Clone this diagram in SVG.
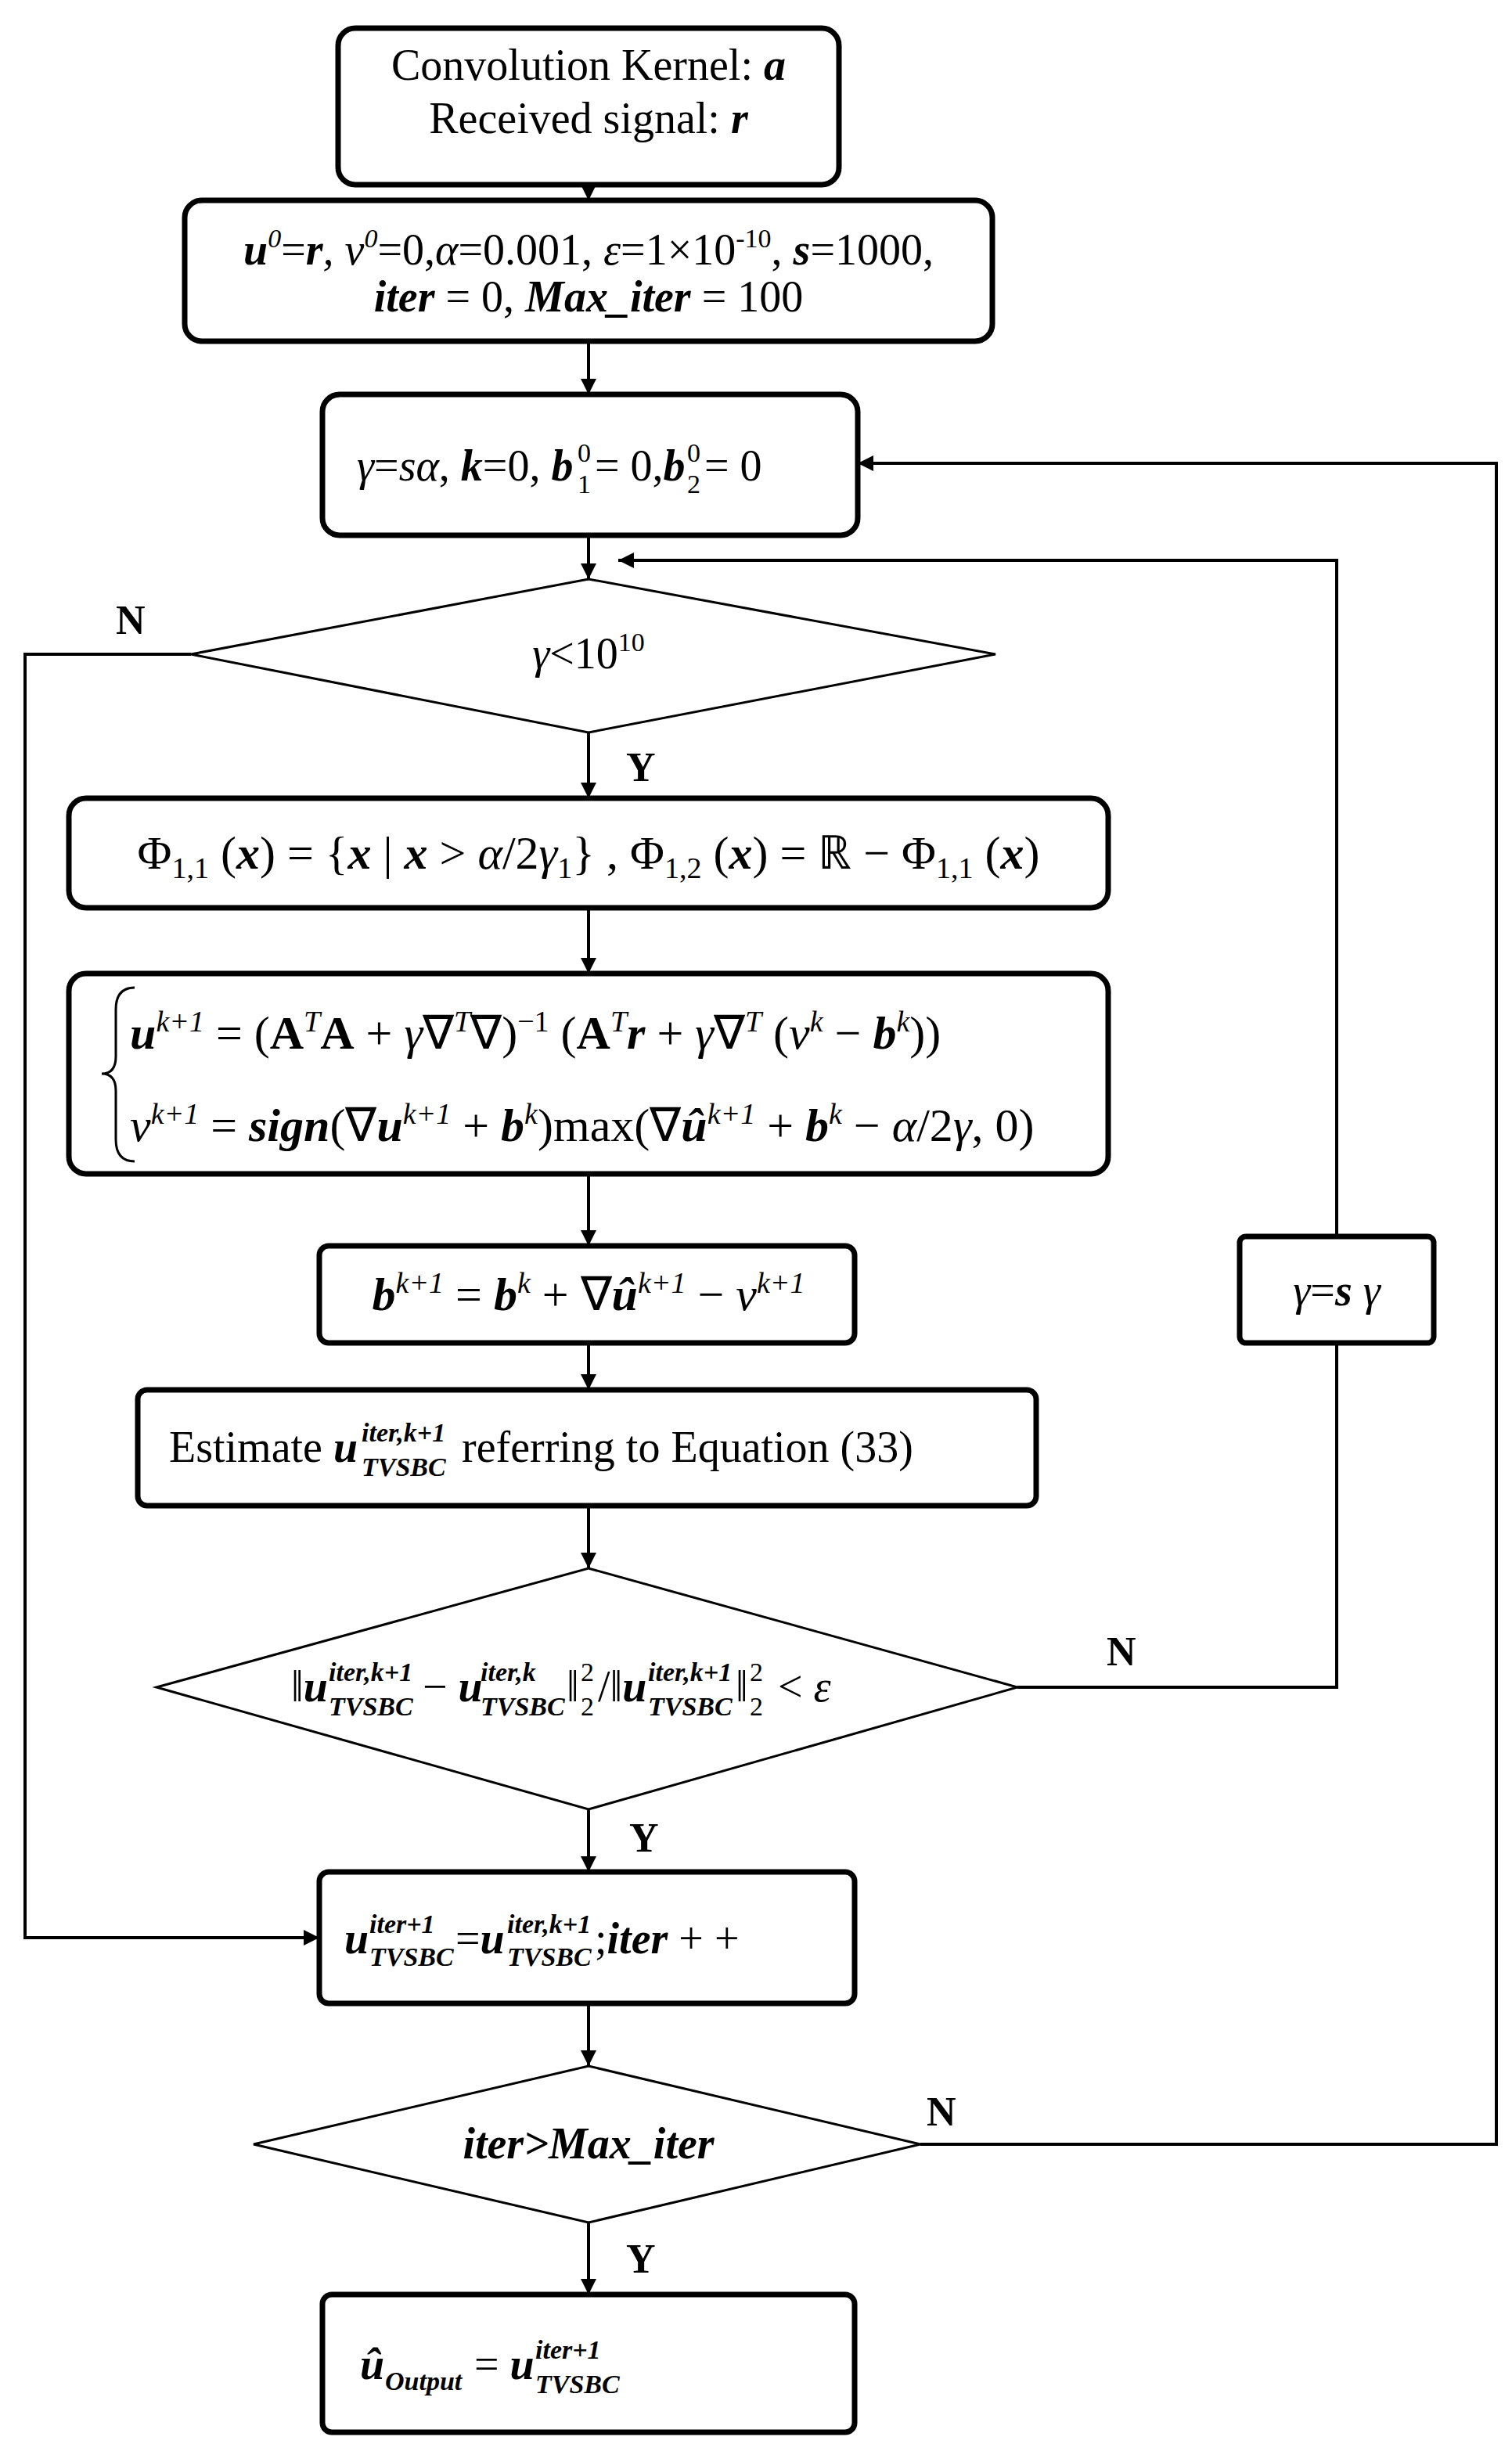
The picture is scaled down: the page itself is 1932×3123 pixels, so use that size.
<svg xmlns="http://www.w3.org/2000/svg" width="1932" height="3123" viewBox="0 0 1932 3123">
<style>
text{font-family:"Liberation Serif","Times New Roman",serif;font-size:56px;fill:#000}
.big{font-size:60px}
.bi{font-weight:bold;font-style:italic}
.i{font-style:italic}
.b{font-weight:bold}
.s{font-size:34px}
.big .s{font-size:38px}
.box{fill:#fff;stroke:#000;stroke-width:7}
.dia{fill:#fff;stroke:#000;stroke-width:3}
.ln{fill:none;stroke:#000;stroke-width:4}
.lbl{font-size:52px;font-weight:bold}
</style>
<defs>
<marker id="a" viewBox="0 0 10 10" refX="10" refY="5" markerWidth="5" markerHeight="5" orient="auto"><path d="M0,0L10,5L0,10z"/></marker>
</defs>
<g id="connectors">
<path class="ln" d="M752,236V256" marker-end="url(#a)"/>
<path class="ln" d="M752,436V504" marker-end="url(#a)"/>
<path class="ln" d="M752,684V740" marker-end="url(#a)"/>
<path class="ln" d="M752,936V1020" marker-end="url(#a)"/>
<path class="ln" d="M752,1160V1244" marker-end="url(#a)"/>
<path class="ln" d="M752,1500V1592" marker-end="url(#a)"/>
<path class="ln" d="M752,1716V1776" marker-end="url(#a)"/>
<path class="ln" d="M752,1924V2004" marker-end="url(#a)"/>
<path class="ln" d="M752,2312V2392" marker-end="url(#a)"/>
<path class="ln" d="M752,2560V2640" marker-end="url(#a)"/>
<path class="ln" d="M752,2840V2932" marker-end="url(#a)"/>
<path class="ln" d="M244,836H32V2476H408" marker-end="url(#a)"/>
<path class="ln" d="M1300,2156H1708V1716"/>
<path class="ln" d="M1708,1580V716H790" marker-end="url(#a)"/>
<path class="ln" d="M1176,2740H1912V592H1096" marker-end="url(#a)"/>
<text class="lbl" x="148" y="810">N</text>
<text class="lbl" x="800" y="998">Y</text>
<text class="lbl" x="1414" y="2128">N</text>
<text class="lbl" x="804" y="2366">Y</text>
<text class="lbl" x="1184" y="2716">N</text>
<text class="lbl" x="800" y="2904">Y</text>
</g>
<g id="n1"><rect class="box" x="432" y="36" width="640" height="200" rx="22"/>
<text x="752" y="102" text-anchor="middle">Convolution Kernel: <tspan class="bi">a</tspan></text>
<text x="752" y="170" text-anchor="middle">Received signal: <tspan class="bi">r</tspan></text></g>
<g id="n2"><rect class="box" x="236" y="256" width="1032" height="180" rx="22"/>
<text x="752" y="338" text-anchor="middle"><tspan class="bi">u</tspan><tspan class="i s" dy="-22">0</tspan><tspan dy="22">=</tspan><tspan class="bi">r</tspan><tspan class="i">, v</tspan><tspan class="i s" dy="-22">0</tspan><tspan dy="22">=0,</tspan><tspan class="i">α</tspan>=0.001, <tspan class="i">ε</tspan>=1×10<tspan class="s" dy="-22">-10</tspan><tspan dy="22">, </tspan><tspan class="bi">s</tspan>=1000,</text>
<text x="752" y="398" text-anchor="middle"><tspan class="bi">iter</tspan> = 0, <tspan class="bi">Max_iter</tspan> = 100</text></g>
<g id="n3"><rect class="box" x="412" y="504" width="684" height="180" rx="22"/>
<text x="456" y="614"><tspan class="i">γ</tspan>=<tspan class="i">sα</tspan>, <tspan class="bi">k</tspan>=0,  <tspan class="bi">b</tspan></text>
<text class="s" x="738" y="590">0</text><text class="s" x="738" y="630">1</text>
<text x="760" y="614"> = 0,<tspan class="bi">b</tspan></text>
<text class="s" x="878" y="590">0</text><text class="s" x="878" y="630">2</text>
<text x="900" y="614"> = 0</text></g>
<g id="n4"><path class="dia" d="M244,836L752,740L1272,836L752,936Z"/>
<text x="752" y="854" text-anchor="middle"><tspan class="i">γ</tspan>&lt;10<tspan class="s" dy="-22">10</tspan></text></g>
<g id="n5"><rect class="box" x="88" y="1020" width="1328" height="140" rx="22"/>
<text class="big" x="752" y="1110" text-anchor="middle">Φ<tspan class="s" dy="12">1,1</tspan><tspan dy="-12"> (</tspan><tspan class="bi">x</tspan>) = {<tspan class="bi">x</tspan> | <tspan class="bi">x</tspan> &gt; <tspan class="i">α</tspan>/2<tspan class="i">γ</tspan><tspan class="s" dy="12">1</tspan><tspan dy="-12">} , Φ</tspan><tspan class="s" dy="12">1,2</tspan><tspan dy="-12"> (</tspan><tspan class="bi">x</tspan>) = ℝ − Φ<tspan class="s" dy="12">1,1</tspan><tspan dy="-12"> (</tspan><tspan class="bi">x</tspan>)</text></g>
<g id="n6"><rect class="box" x="88" y="1244" width="1328" height="256" rx="22"/>
<path d="M172,1262Q148,1262 148,1290V1350Q148,1372 130,1372Q148,1372 148,1394V1456Q148,1484 172,1484" fill="none" stroke="#000" stroke-width="3"/>
<text class="big" x="166" y="1340"><tspan class="bi">u</tspan><tspan class="i s" dy="-22">k+1</tspan><tspan dy="22"> = (</tspan><tspan class="b">A</tspan><tspan class="i s" dy="-22">T</tspan><tspan class="b" dy="22">A</tspan> + <tspan class="i">γ</tspan>∇<tspan class="i s" dy="-22">T</tspan><tspan dy="22">∇)</tspan><tspan class="s" dy="-22">−1</tspan><tspan dy="22"> (</tspan><tspan class="b">A</tspan><tspan class="i s" dy="-22">T</tspan><tspan class="bi" dy="22">r</tspan> + <tspan class="i">γ</tspan>∇<tspan class="i s" dy="-22">T</tspan><tspan dy="22"> (</tspan><tspan class="i">v</tspan><tspan class="i s" dy="-22">k</tspan><tspan dy="22"> − </tspan><tspan class="bi">b</tspan><tspan class="i s" dy="-22">k</tspan><tspan dy="22">))</tspan></text>
<text class="big" x="166" y="1458"><tspan class="i">v</tspan><tspan class="i s" dy="-22">k+1</tspan><tspan dy="22"> = </tspan><tspan class="bi">sign</tspan>(∇<tspan class="bi">u</tspan><tspan class="i s" dy="-22">k+1</tspan><tspan dy="22"> + </tspan><tspan class="bi">b</tspan><tspan class="i s" dy="-22">k</tspan><tspan dy="22">)max(∇</tspan><tspan class="bi">û</tspan><tspan class="i s" dy="-22">k+1</tspan><tspan dy="22"> + </tspan><tspan class="bi">b</tspan><tspan class="i s" dy="-22">k</tspan><tspan dy="22"> − </tspan><tspan class="i">α</tspan>/2<tspan class="i">γ</tspan>, 0)</text></g>
<g id="n7"><rect class="box" x="408" y="1592" width="684" height="124" rx="12"/>
<text class="big" x="752" y="1674" text-anchor="middle"><tspan class="bi">b</tspan><tspan class="i s" dy="-22">k+1</tspan><tspan dy="22"> = </tspan><tspan class="bi">b</tspan><tspan class="i s" dy="-22">k</tspan><tspan dy="22"> + ∇</tspan><tspan class="bi">û</tspan><tspan class="i s" dy="-22">k+1</tspan><tspan dy="22"> − </tspan><tspan class="i">v</tspan><tspan class="i s" dy="-22">k+1</tspan></text></g>
<g id="n8"><rect class="box" x="176" y="1776" width="1148" height="148" rx="12"/>
<text x="216" y="1868">Estimate <tspan class="bi">u</tspan></text>
<text class="bi s" x="462" y="1842">iter,k+1</text><text class="bi s" x="462" y="1886">TVSBC</text>
<text x="590" y="1868">referring to Equation (33)</text></g>
<g id="n9"><path class="dia" d="M200,2156L752,2004L1300,2156L752,2312Z"/>
<text x="372" y="2174">‖<tspan class="bi">u</tspan></text>
<text class="bi s" x="420" y="2148">iter,k+1</text><text class="bi s" x="420" y="2192">TVSBC</text>
<text x="540" y="2174">− <tspan class="bi">u</tspan></text>
<text class="bi s" x="614" y="2148">iter,k</text><text class="bi s" x="614" y="2192">TVSBC</text>
<text x="724" y="2174">‖</text>
<text class="s" x="742" y="2148">2</text><text class="s" x="742" y="2192">2</text>
<text x="764" y="2174">/‖<tspan class="bi">u</tspan></text>
<text class="bi s" x="828" y="2148">iter,k+1</text><text class="bi s" x="828" y="2192">TVSBC</text>
<text x="940" y="2174">‖</text>
<text class="s" x="958" y="2148">2</text><text class="s" x="958" y="2192">2</text>
<text x="994" y="2174">&lt; <tspan class="i">ε</tspan></text></g>
<g id="n10"><rect class="box" x="1584" y="1580" width="248" height="136" rx="8"/>
<text x="1708" y="1668" text-anchor="middle"><tspan class="i">γ</tspan>=<tspan class="bi">s</tspan> <tspan class="i">γ</tspan></text></g>
<g id="n11"><rect class="box" x="408" y="2392" width="684" height="168" rx="12"/>
<text x="440" y="2496" class="bi">u</text>
<text class="bi s" x="472" y="2470">iter+1</text><text class="bi s" x="472" y="2512">TVSBC</text>
<text x="582" y="2496">=<tspan class="bi">u</tspan></text>
<text class="bi s" x="648" y="2470">iter,k+1</text><text class="bi s" x="648" y="2512">TVSBC</text>
<text x="760" y="2496">;<tspan class="bi">iter</tspan> + +</text></g>
<g id="n12"><path class="dia" d="M324,2740L752,2640L1176,2740L752,2840Z"/>
<text x="752" y="2758" text-anchor="middle" class="bi">iter&gt;Max_iter</text></g>
<g id="n13"><rect class="box" x="412" y="2932" width="680" height="176" rx="12"/>
<text x="460" y="3040" class="bi">û</text>
<text class="bi s" x="492" y="3054">Output</text>
<text x="606" y="3040">= <tspan class="bi">u</tspan></text>
<text class="bi s" x="684" y="3014">iter+1</text><text class="bi s" x="684" y="3058">TVSBC</text></g>
</svg>
